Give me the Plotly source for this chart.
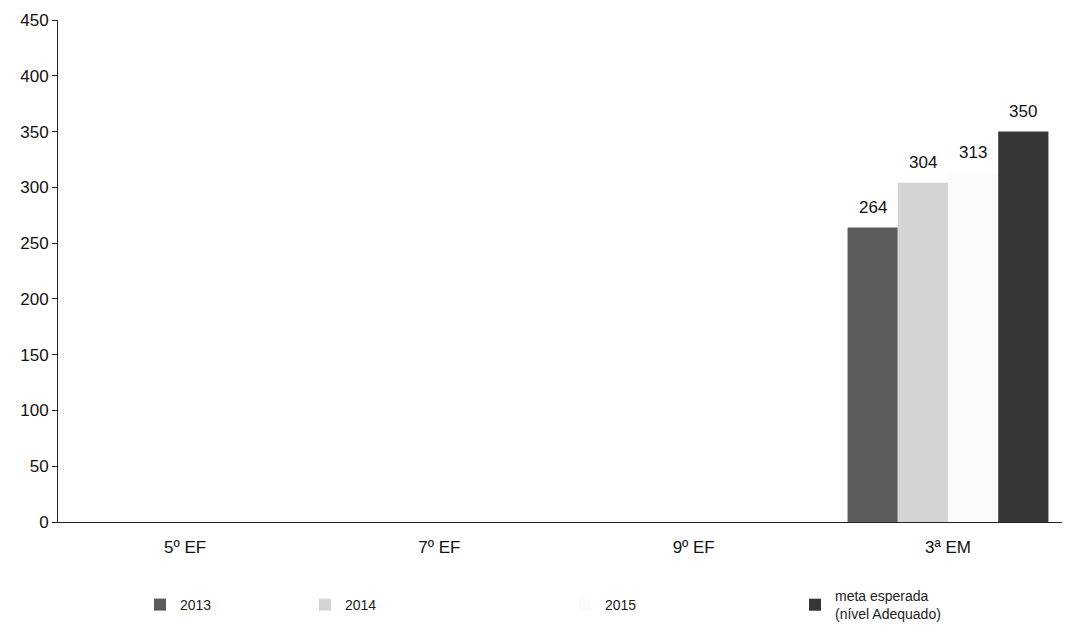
import plotly.graph_objects as go

categories = ["5º EF", "7º EF", "9º EF", "3ª EM"]
series_names = ["2013", "2014", "2015", "meta esperada<br>(nível Adequado)"]
values_2013 = [None, None, None, 264]
values_2014 = [None, None, None, 304]
values_2015 = [None, None, None, 313]
values_meta = [None, None, None, 350]
y_ticks = [0, 50, 100, 150, 200, 250, 300, 350, 400, 450]

all_values = [values_2013, values_2014, values_2015, values_meta]
colors = ["#5c5c5c", "#d4d4d4", "#fbfbfb", "#363636"]
legend_text_x = [180, 345, 605, 835]
legend_ids = ["legend", "legend2", "legend3", "legend4"]

W, H = 1070, 636
ML, MR, MT, MB = 50, 10, 12, 122
PW, PH = W - ML - MR, H - MT - MB
X_RANGE = [-0.5, 3.472]
BARGAP = 0.21
SCREEN_OFF = 8

fig = go.Figure()
for name, vals, col, lid in zip(series_names, all_values, colors, legend_ids):
    fig.add_trace(go.Bar(
        x=categories, y=vals, name=name, marker_color=col,
        marker_line_width=0, legend=lid,
    ))

# value labels, centred over each bar of its group
n_series = len(all_values)
unit_px = PW / (X_RANGE[1] - X_RANGE[0])
bar_w = (1 - BARGAP) / n_series
for i, vals in enumerate(all_values):
    dx = (i - (n_series - 1) / 2) * bar_w * unit_px
    for cat, v in zip(categories, vals):
        if v is None:
            continue
        fig.add_annotation(
            x=cat, y=v, text=str(v), showarrow=False, xshift=dx, yshift=20,
            yanchor="middle", font=dict(size=17, color="#111"),
        )

font_family = "Liberation Sans, Arial, sans-serif"
layout_legends = {}
for lid, tx in zip(legend_ids, legend_text_x):
    layout_legends[lid] = dict(
        x=(tx - 40 - (ML + SCREEN_OFF)) / PW, y=(H - MB - (605 - SCREEN_OFF)) / PH,
        xanchor="left", yanchor="middle",
        bgcolor="rgba(0,0,0,0)", font=dict(size=14, color="#222", family=font_family),
    )

fig.update_layout(
    width=W, height=H,
    margin=dict(l=ML, r=MR, t=MT, b=MB, autoexpand=False),
    paper_bgcolor="white", plot_bgcolor="white",
    barmode="group", bargap=BARGAP, bargroupgap=0,
    font=dict(family=font_family, size=17, color="#111"),
    showlegend=True,
    **layout_legends,
)
fig.update_xaxes(
    range=X_RANGE, showgrid=False, showline=True, linecolor="#222", linewidth=1,
    ticks="", tickfont=dict(size=17), ticklabelstandoff=10, tickangle=0, automargin=False,
)
fig.update_yaxes(
    range=[0, 450], tickvals=y_ticks, showgrid=False, zeroline=False,
    showline=True, linecolor="#222", linewidth=1, automargin=False,
    ticks="outside", ticklen=5, tickcolor="#222", tickfont=dict(size=17),
)
fig.write_html("out.html")
